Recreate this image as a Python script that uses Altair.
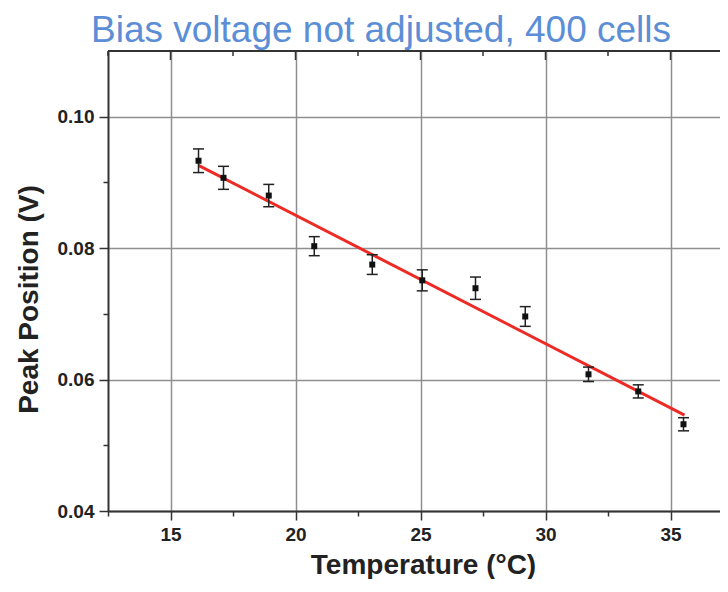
import altair as alt
import pandas as pd

# ---- data ----
temperature = [16.12, 17.12, 18.93, 20.75, 23.07, 25.07, 27.20, 29.19, 31.72, 33.71, 35.52]
peak = [0.0933, 0.0907, 0.0880, 0.0803, 0.0775, 0.0751, 0.0739, 0.0696, 0.0608, 0.0582, 0.0532]
err = [0.0018, 0.00175, 0.0017, 0.00145, 0.0015, 0.0016, 0.0017, 0.0015, 0.0011, 0.0010, 0.0010]

fit_temp = [16.12, 35.56]
fit_peak = [0.0926, 0.0546]

x_major = [15, 20, 25, 30, 35]
x_minor = [12.5, 17.5, 22.5, 27.5, 32.5]
x_ticks = [12.5, 15, 17.5, 20, 22.5, 25, 27.5, 30, 32.5, 35]
y_ticks = [0.04, 0.05, 0.06, 0.07, 0.08, 0.09, 0.10]

df = pd.DataFrame({
    "T": temperature,
    "V": peak,
    "lo": [p - e for p, e in zip(peak, err)],
    "hi": [p + e for p, e in zip(peak, err)],
})
fit_df = pd.DataFrame({"T": fit_temp, "V": fit_peak})
top_major = pd.DataFrame({"T": x_major})
top_minor = pd.DataFrame({"T": x_minor})

W, H = 612, 460
FONT = "Liberation Sans"
DARK = "#333333"

x_scale = alt.Scale(domain=[12.5, 36.98], nice=False, zero=False)
y_scale = alt.Scale(domain=[0.04, 0.11], nice=False, zero=False)

x_major_test = "datum.value % 5 == 0"
y_major_test = "round(datum.value * 100) % 2 == 0"

x_axis = alt.Axis(
    values=x_ticks,
    labelExpr=f"{x_major_test} ? datum.label : ''",
    labelOverlap=False,
    labelFlush=False,
    labelFont=FONT, labelFontSize=19, labelFontWeight="bold", labelColor="#222222",
    labelPadding=5,
    tickSize={"condition": {"test": x_major_test, "value": 9}, "value": 5},
    tickColor=DARK, tickWidth=1.5,
    domainColor=DARK, domainWidth=2,
    grid=True, gridColor="#8f8f8f", gridWidth=1.5,
    gridOpacity={"condition": {"test": x_major_test, "value": 1}, "value": 0},
    title="Temperature (°C)",
    titleFont=FONT, titleFontSize=28, titleFontWeight="bold", titleColor="#222222",
    titleX=315, titleY=62, titleBaseline="alphabetic", titleAlign="center",
)

y_axis = alt.Axis(
    values=y_ticks,
    labelExpr=f"{y_major_test} ? format(datum.value, '.2f') : ''",
    labelOverlap=False,
    labelFlush=False,
    labelFont=FONT, labelFontSize=19, labelFontWeight="bold", labelColor="#222222",
    labelPadding=5,
    tickSize={"condition": {"test": y_major_test, "value": 9}, "value": 5},
    tickColor=DARK, tickWidth=1.5,
    domainColor=DARK, domainWidth=2,
    grid=True, gridColor="#8f8f8f", gridWidth=1.5,
    gridOpacity={"condition": {"test": y_major_test, "value": 1}, "value": 0},
    title="Peak Position (V)",
    titleFont=FONT, titleFontSize=28, titleFontWeight="bold", titleColor="#222222",
    titleX=-71, titleY=248, titleBaseline="alphabetic", titleAlign="center", titleAngle=270,
)

X = alt.X("T:Q", scale=x_scale, axis=x_axis)


def Y(field):
    return alt.Y(f"{field}:Q", scale=y_scale, axis=y_axis)


base = alt.Chart(df)

points = base.mark_square(size=36, filled=True, color="#111111", opacity=1).encode(x=X, y=Y("V"))

bars = base.mark_rule(color="#222222", strokeWidth=1.5).encode(x=X, y=Y("lo"), y2="hi:Q")

cap_lo = base.mark_tick(orient="horizontal", size=11, thickness=1.5, color="#222222",
                        opacity=1).encode(x=X, y=Y("lo"))
cap_hi = base.mark_tick(orient="horizontal", size=11, thickness=1.5, color="#222222",
                        opacity=1).encode(x=X, y=Y("hi"))

fit = alt.Chart(fit_df).mark_line(color="#ee2a24", strokeWidth=3).encode(x=X, y=Y("V"))

# top frame line and inward top ticks
top_frame = alt.Chart(top_major).mark_rule(color=DARK, strokeWidth=2).encode(
    x=alt.value(0), x2=alt.value(W), y=alt.value(0)
)
top_ticks_major = alt.Chart(top_major).mark_rule(color=DARK, strokeWidth=1.5).encode(
    x=X, y=alt.value(0), y2=alt.value(9)
)
top_ticks_minor = alt.Chart(top_minor).mark_rule(color=DARK, strokeWidth=1.5).encode(
    x=X, y=alt.value(0), y2=alt.value(5)
)

chart = alt.layer(
    fit, bars, cap_lo, cap_hi, points, top_frame, top_ticks_major, top_ticks_minor
).properties(
    width=W,
    height=H,
    autosize=alt.AutoSizeParams(type="none"),
    padding={"left": 100, "top": 43, "right": 0, "bottom": 68},
    background="white",
    title=alt.TitleParams(
        "Bias voltage not adjusted, 400 cells",
        font=FONT, fontSize=37, fontWeight="normal", color="#5b8ed6",
        anchor="middle", dx=-33, dy=42, offset=13, baseline="alphabetic",
    ),
).configure_view(stroke=None)

chart.save("out.html", embed_options={"renderer": "svg", "actions": False})
